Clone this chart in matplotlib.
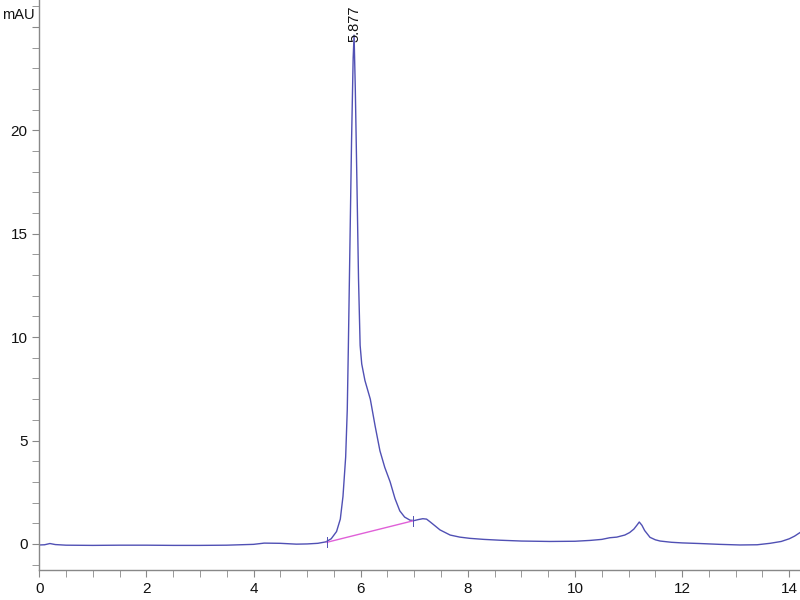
import matplotlib
matplotlib.use("Agg")
import matplotlib.pyplot as plt
import numpy as np
from matplotlib.ticker import MultipleLocator

plt.rcParams['font.family'] = ['Liberation Sans', 'DejaVu Sans']

# Chromatogram trace (time in min, absorbance in mAU)
time_min = [0.0, 0.1, 0.2, 0.3, 0.5, 1.0, 1.5, 2.0, 2.5, 3.0, 3.5, 4.0, 4.2, 4.5, 4.8,
            5.0, 5.2, 5.35, 5.45, 5.55, 5.62, 5.67, 5.72, 5.75, 5.77, 5.80, 5.83,
            5.86, 5.877, 5.90, 5.93, 5.96, 5.99, 6.02, 6.08, 6.18, 6.27, 6.36, 6.45,
            6.55, 6.64, 6.73, 6.82, 6.92, 7.0, 7.08, 7.16, 7.23, 7.3, 7.4, 7.48,
            7.67, 7.85, 8.04, 8.3, 8.6, 9.0, 9.53, 10.0, 10.28, 10.5, 10.65, 10.78,
            10.93, 11.02, 11.1, 11.16, 11.2, 11.25, 11.3, 11.4, 11.5, 11.59, 11.8,
            12.0, 12.33, 12.7, 13.08, 13.4, 13.64, 13.85, 14.0, 14.1, 14.2]
absorbance = [-0.05, -0.04, 0.02, -0.03, -0.06, -0.07, -0.06, -0.06, -0.07, -0.07, -0.06, -0.02, 0.04, 0.03, -0.01,
              0.0, 0.03, 0.1, 0.25, 0.6, 1.2, 2.3, 4.2, 6.5, 9.5, 14.5, 19.5,
              23.5, 24.6, 22.0, 17.5, 12.8, 9.6, 8.7, 7.9, 7.0, 5.7, 4.5, 3.7,
              3.0, 2.2, 1.6, 1.3, 1.15, 1.13, 1.18, 1.22, 1.2, 1.06, 0.85, 0.68,
              0.43, 0.33, 0.27, 0.22, 0.18, 0.14, 0.12, 0.13, 0.17, 0.22, 0.3, 0.33,
              0.43, 0.55, 0.72, 0.92, 1.06, 0.9, 0.65, 0.32, 0.2, 0.14, 0.08,
              0.05, 0.02, -0.02, -0.05, -0.04, 0.03, 0.12, 0.25, 0.38, 0.55]

# Integration baseline for main peak
base_t = [5.37, 6.98]
base_y = [0.08, 1.12]
peak_rt = 5.877
peak_label = '5.877'

fig = plt.figure(figsize=(8, 6), dpi=100)
ax = fig.add_axes([0.049, 0.05, 0.951, 0.95])

ax.plot(time_min, absorbance, color='#5050b4', lw=1.0)
ax.plot(base_t, base_y, color='#e060d8', lw=1.0)
for t, y in zip(base_t, base_y):
    ax.plot([t, t], [y - 0.25, y + 0.25], color='#5050b4', lw=0.7)

ax.text(peak_rt, 26.05, peak_label, rotation=90, ha='center', va='top',
        fontsize=10.5, color='#111111')

ax.set_xlim(0, 14.2)
ax.set_ylim(-1.26, 26.3)
ax.xaxis.set_major_locator(MultipleLocator(2))
ax.xaxis.set_minor_locator(MultipleLocator(0.5))
ax.yaxis.set_major_locator(MultipleLocator(5))
ax.yaxis.set_minor_locator(MultipleLocator(1))

for s in ['top', 'right']:
    ax.spines[s].set_visible(False)
for s in ['left', 'bottom']:
    ax.spines[s].set_color('#888888')
    ax.spines[s].set_linewidth(1.0)

ax.tick_params(axis='both', which='both', color='#888888', direction='out',
               labelsize=11, labelcolor='#111111')
ax.tick_params(axis='both', which='major', length=5)
ax.tick_params(axis='both', which='minor', length=5)
ax.set_yticks([0, 5, 10, 15, 20, 25])
ax.set_yticklabels(['0', '5', '10', '15', '20', ''])

fig.text(0.003, 0.975, 'mAU', fontsize=10.5, ha='left', va='center', color='#111111')

fig.savefig('out.png', dpi=100)
